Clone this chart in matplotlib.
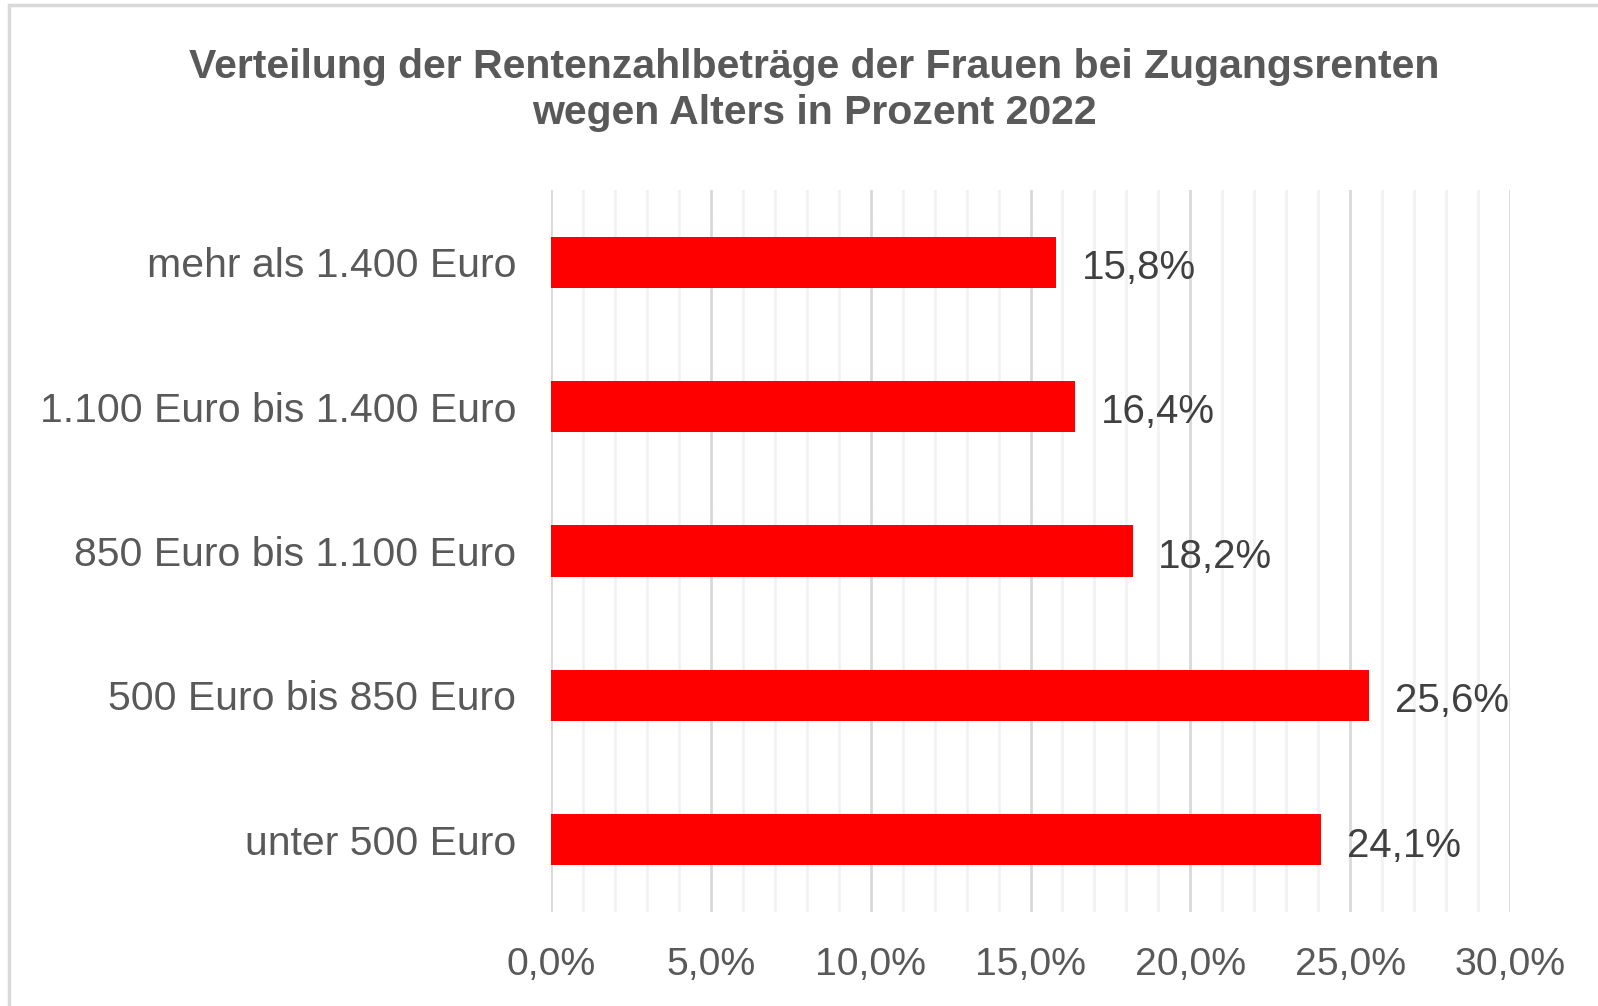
import matplotlib
matplotlib.use("Agg")
import matplotlib.pyplot as plt
from matplotlib.patches import Rectangle
from matplotlib.ticker import MultipleLocator, FuncFormatter

categories = ["unter 500 Euro", "500 Euro bis 850 Euro", "850 Euro bis 1.100 Euro",
              "1.100 Euro bis 1.400 Euro", "mehr als 1.400 Euro"]
values = [24.1, 25.6, 18.2, 16.4, 15.8]
labels = ["24,1%", "25,6%", "18,2%", "16,4%", "15,8%"]
title = "Verteilung der Rentenzahlbeträge der Frauen bei Zugangsrenten\nwegen Alters in Prozent 2022"

plt.rcParams['font.family'] = ['Liberation Sans', 'DejaVu Sans']
W, H = 1598, 1006
fig = plt.figure(figsize=(W / 100, H / 100), dpi=100)

ax = fig.add_axes([551 / W, 1 - 912 / H, (1510 - 551) / W, (912 - 190) / H])
y = range(len(categories))
ax.barh(y, values, height=0.355, color="#FF0000", zorder=3)
ax.set_xlim(0, 30)
ax.set_ylim(-0.5, len(categories) - 0.5)
ax.xaxis.set_major_locator(MultipleLocator(5))
ax.xaxis.set_minor_locator(MultipleLocator(1))
ax.grid(axis="x", which="minor", color="#f2f2f2", lw=2, zorder=0)
ax.grid(axis="x", which="major", color="#d9d9d9", lw=2, zorder=1)
ax.xaxis.set_major_formatter(FuncFormatter(lambda v, p: f"{v:.1f}".replace(".", ",") + "%"))
ax.set_yticks(list(y))
ax.set_yticklabels(categories)
ax.tick_params(axis="both", which="both", length=0, labelcolor="#595959")
ax.tick_params(axis="x", pad=25, labelsize=28.3)
ax.tick_params(axis="y", pad=25, labelsize=29.5)
for s in ax.spines.values():
    s.set_visible(False)
for yi, v, lab in zip(y, values, labels):
    ax.text(v + 0.8, yi - 0.04, lab, va="center", ha="left", fontsize=29, color="#404040")

lines = title.split("\n")
tx = 814 / W
fig.text(tx, 1 - 67 / H, lines[0], ha="center", va="center",
         fontsize=29.5, fontweight="bold", color="#595959")
fig.text(tx, 1 - 113 / H, lines[1], ha="center", va="center",
         fontsize=29.5, fontweight="bold", color="#595959")

fig.patches.append(Rectangle((9 / W, -0.01), 1.02, 1 - 5 / H + 0.01, transform=fig.transFigure,
                             fill=False, edgecolor="#d9d9d9", lw=2.5))
fig.savefig("out.png", dpi=100, facecolor="white")
